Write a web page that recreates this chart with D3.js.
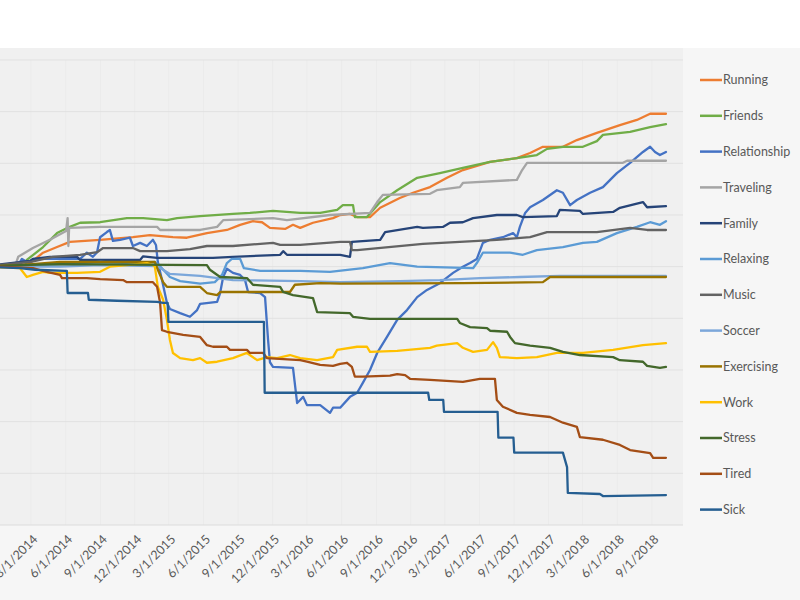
<!DOCTYPE html>
<html><head><meta charset="utf-8">
<script src="https://cdn.jsdelivr.net/npm/d3@7"></script>
<style>body{margin:0;background:#fff}svg{display:block;font-family:Lato,"Open Sans",sans-serif}</style>
</head><body><svg id="c" width="800" height="600"></svg>
<script>
// x values: days after 3/1/2014 ; y values: cumulative score
const startDate = new Date(2014, 2, 1);
const tickLabels = ["3/1/2014","6/1/2014","9/1/2014","12/1/2014","3/1/2015","6/1/2015","9/1/2015","12/1/2015",
  "3/1/2016","6/1/2016","9/1/2016","12/1/2016","3/1/2017","6/1/2017","9/1/2017","12/1/2017","3/1/2018","6/1/2018","9/1/2018"];
const seriesNames = ["Running","Friends","Relationship","Traveling","Family","Relaxing","Music","Soccer","Exercising","Work","Stress","Tired","Sick"];
const seriesColors = ["#ED7D31","#70AD47","#4472C4","#A5A5A5","#264478","#5B9BD5","#636363","#7CA7DA","#997300","#FFC000","#43682B","#A44E16","#255E91"];

const running = [[-135,0],[-16,0.1],[-3,0.7],[32,2.7],[69,3.8],[103,4.8],[183,5.2],[270,5.7],[315,6.1],[376,5.7],[413,5.6],[466,6.5],[519,7.1],[554,8.1],[588,8.8],[612,8.6],[633,7.5],[673,7.3],[694,8.1],[713,7.5],[747,8.5],[800,9.4],[819,10.0],[845,10.2],[864,9.6],[898,9.6],[925,11.4],[977,13.3],[1012,14.3],[1057,15.4],[1102,17.2],[1144,18.7],[1216,20.3],[1287,21.0],[1322,22.0],[1356,23.2],[1409,23.2],[1446,24.5],[1499,25.9],[1560,27.4],[1605,28.4],[1640,29.6],[1682,29.6]];
const friends = [[-135,0],[-16,0.1],[-11,1.3],[32,3.8],[69,6.5],[85,7.1],[103,7.7],[130,8.5],[183,8.6],[254,9.4],[297,9.4],[360,9.0],[387,9.4],[448,9.8],[535,10.2],[580,10.4],[641,10.8],[713,10.4],[766,10.4],[811,11.0],[826,11.9],[853,11.9],[858,9.6],[890,9.6],[925,12.5],[970,14.8],[1023,17.2],[1083,18.1],[1144,19.1],[1216,20.3],[1287,21.0],[1340,21.6],[1367,22.8],[1409,23.2],[1462,23.2],[1499,24.3],[1515,25.5],[1587,26.1],[1640,27.0],[1682,27.6]];
const relationship = [[-135,0],[-34,0.3],[-24,1.5],[-11,0.9],[24,1.5],[130,1.5],[148,2.7],[164,1.9],[175,2.8],[183,5.7],[201,6.7],[209,7.1],[217,5.0],[236,5.2],[262,5.6],[270,4.0],[289,4.6],[307,4.0],[323,5.2],[331,4.2],[336,0.9],[347,-2.6],[360,-7.0],[368,-8.2],[395,-9.0],[421,-9.7],[440,-8.4],[448,-7.2],[493,-6.8],[501,-5.1],[509,-2.0],[519,-0.4],[535,-1.2],[554,-1.6],[567,-2.6],[575,-4.9],[607,-5.1],[620,-5.9],[628,-14.2],[633,-18.5],[641,-19.4],[694,-19.6],[705,-26.4],[713,-25.8],[721,-25.2],[731,-26.8],[766,-26.8],[792,-28.3],[800,-27.3],[819,-27.3],[845,-25.2],[864,-24.4],[879,-22.5],[898,-20.0],[917,-16.7],[943,-13.6],[970,-10.3],[996,-8.4],[1023,-5.9],[1049,-4.5],[1083,-3.2],[1118,-1.2],[1144,0],[1163,0.7],[1181,1.5],[1197,4.6],[1216,5.2],[1250,5.7],[1277,6.5],[1287,5.7],[1295,7.7],[1309,10.4],[1322,11.5],[1356,12.9],[1393,14.8],[1409,14.3],[1428,11.9],[1446,12.9],[1481,14.3],[1515,15.4],[1552,18.1],[1587,20.1],[1621,22.2],[1640,23.2],[1653,22.2],[1666,21.6],[1682,22.2]];
const traveling = [[-135,0],[-42,0.1],[-34,1.9],[5,3.6],[50,5.2],[93,6.9],[97,9.4],[99,4.0],[101,7.5],[183,7.7],[334,7.7],[342,7.1],[448,7.1],[493,7.7],[509,9.0],[641,9.4],[678,9.0],[792,10.0],[898,10.4],[917,12.5],[932,13.9],[1057,14.1],[1075,14.8],[1136,15.4],[1144,16.2],[1287,16.8],[1301,18.7],[1314,20.1],[1568,20.1],[1579,20.5],[1682,20.5]];
const family = [[-135,0],[-3,1.1],[5,1.5],[50,1.9],[122,1.9],[130,1.3],[289,1.3],[297,2.0],[334,1.7],[482,1.7],[535,1.9],[660,2.3],[668,3.0],[678,2.3],[819,2.3],[845,1.9],[850,4.8],[925,5.2],[938,6.7],[1023,7.7],[1038,7.5],[1091,7.7],[1110,8.5],[1144,8.6],[1171,9.4],[1234,10.0],[1287,10.0],[1303,9.6],[1393,9.8],[1401,11.0],[1454,10.8],[1462,10.2],[1542,10.6],[1560,11.4],[1621,12.5],[1632,11.5],[1682,11.7]];
const relaxing = [[-135,0],[-3,0.1],[77,0.5],[183,0.9],[262,0.7],[328,0.9],[342,0.1],[368,-2.0],[395,-2.8],[448,-3.3],[487,-3.0],[506,-1.6],[519,0.7],[532,1.5],[554,1.5],[564,-0.3],[607,-0.8],[713,-0.8],[792,-1.0],[879,-0.3],[951,0.7],[1023,0],[1171,-0.3],[1181,0.7],[1197,2.7],[1269,2.7],[1303,2.3],[1340,3.2],[1409,3.8],[1462,4.6],[1499,4.8],[1552,6.5],[1605,7.7],[1640,8.6],[1666,8.1],[1682,8.8]];
const music = [[-135,0],[-3,0.9],[58,1.9],[130,2.3],[175,2.8],[191,3.6],[270,3.6],[289,3.0],[360,3.0],[421,3.4],[466,4.0],[535,4.0],[641,4.6],[660,4.2],[713,4.2],[819,4.8],[845,4.8],[850,3.2],[864,3.2],[1038,4.4],[1234,5.2],[1322,5.7],[1367,6.7],[1499,6.7],[1587,7.5],[1632,7.1],[1682,7.1]];
const soccer = [[-135,0],[77,0],[183,0.3],[334,0.1],[350,-0.6],[368,-1.4],[448,-1.8],[535,-2.6],[713,-2.8],[819,-3.0],[977,-2.8],[1083,-2.6],[1189,-2.2],[1295,-2.0],[1401,-1.8],[1507,-1.8],[1682,-1.8]];
const exercising = [[-135,0],[-29,0.3],[77,0.9],[328,0.9],[336,-0.6],[350,-3.0],[360,-3.9],[448,-3.9],[466,-5.1],[493,-5.5],[501,-4.9],[686,-4.9],[699,-3.5],[766,-3.2],[819,-3.3],[1144,-3.2],[1356,-3.0],[1375,-2.0],[1682,-2.0]];
const work = [[-135,0],[-29,-0.3],[-11,-2.0],[5,-1.6],[32,-1.0],[50,-1.2],[122,-1.2],[183,-1.0],[209,0],[254,0.3],[307,0.7],[323,0.3],[328,0],[336,-3.9],[350,-6.4],[360,-10.3],[368,-14.2],[376,-16.7],[395,-17.7],[429,-18.1],[448,-17.7],[466,-18.6],[493,-18.4],[535,-17.7],[572,-16.7],[599,-18.1],[625,-17.5],[652,-17.7],[686,-17.1],[713,-17.7],[758,-18.1],[800,-17.5],[811,-16.1],[864,-15.5],[890,-15.5],[898,-16.5],[970,-16.3],[1057,-15.7],[1075,-15.3],[1129,-14.8],[1144,-15.7],[1171,-16.5],[1208,-16.1],[1224,-14.6],[1234,-15.7],[1242,-17.5],[1287,-17.7],[1340,-17.5],[1393,-16.7],[1462,-16.7],[1542,-16.1],[1621,-15.2],[1682,-14.8]];
const stress = [[-135,0],[-29,0.3],[77,0.5],[466,0.3],[474,-0.6],[501,-2.0],[572,-2.2],[588,-3.5],[660,-3.9],[668,-4.9],[694,-5.5],[747,-6.1],[758,-8.8],[845,-9.0],[853,-9.7],[898,-10.1],[1129,-10.1],[1136,-10.9],[1163,-11.7],[1208,-11.9],[1216,-12.4],[1261,-12.6],[1269,-13.6],[1282,-14.8],[1322,-15.3],[1375,-15.7],[1409,-16.5],[1454,-17.1],[1542,-17.5],[1560,-18.1],[1621,-18.4],[1632,-19.2],[1666,-19.6],[1682,-19.4]];
const tired = [[-135,0],[-82,0],[5,-0.3],[42,-1.0],[77,-1.6],[82,-2.2],[148,-2.2],[183,-2.4],[244,-2.6],[254,-3.0],[323,-3.0],[334,-3.9],[342,-7.0],[347,-12.3],[360,-12.6],[403,-13.2],[448,-13.6],[466,-15.2],[482,-15.5],[519,-15.5],[527,-16.1],[572,-16.1],[580,-16.7],[615,-16.7],[625,-17.7],[713,-18.1],[731,-18.4],[766,-19.0],[800,-19.2],[819,-18.8],[837,-18.6],[850,-19.4],[858,-21.3],[879,-21.3],[951,-21.1],[970,-20.8],[991,-21.0],[1004,-21.7],[1057,-21.9],[1144,-22.3],[1189,-21.7],[1229,-21.7],[1234,-25.8],[1250,-27.1],[1287,-28.3],[1322,-28.7],[1375,-29.1],[1409,-30.2],[1446,-31.0],[1454,-33.0],[1515,-33.5],[1560,-34.5],[1587,-35.5],[1640,-36.1],[1648,-37.0],[1682,-37.0]];
const sick = [[-135,0],[-29,-0.3],[11,-0.6],[93,-0.8],[95,-0.8],[97,-5.1],[151,-5.1],[153,-6.4],[228,-6.6],[334,-6.8],[350,-7.0],[362,-7.0],[364,-10.7],[617,-10.7],[619,-24.4],[1052,-24.4],[1055,-25.8],[1092,-25.8],[1094,-28.1],[1236,-28.1],[1238,-33.1],[1278,-33.1],[1280,-36.0],[1409,-36.0],[1420,-38.8],[1422,-43.8],[1507,-44.0],[1515,-44.4],[1682,-44.2]];

const seriesData = [running, friends, relationship, traveling, family, relaxing, music, soccer, exercising, work, stress, tired, sick];

const svg = d3.select("#c");
const W = 800, H = 600;
const plot = {left: -60, right: 683, top: 60, bottom: 525};

// chart area background
svg.append("rect").attr("x",0).attr("y",0).attr("width",W).attr("height",H).attr("fill","#ffffff");
svg.append("rect").attr("x",0).attr("y",48).attr("width",W).attr("height",H-48).attr("fill","#f6f6f6");
svg.append("rect").attr("x",plot.left).attr("y",48).attr("width",plot.right-plot.left).attr("height",plot.bottom-48).attr("fill","#f0f0f0");

const x = d3.scaleTime().domain([startDate, new Date(2018, 8, 1)]).range([31, 652]);
const y = d3.scaleLinear().domain([-50, 40]).range([plot.bottom, plot.top]);
const parse = d3.timeParse("%m/%d/%Y");
const tickDates = tickLabels.map(parse);

// gridlines
const grid = svg.append("g");
grid.selectAll("line.v").data(tickDates).join("line")
  .attr("x1", d => x(d)).attr("x2", d => x(d)).attr("y1", plot.top).attr("y2", plot.bottom)
  .attr("stroke", "#ebebeb").attr("stroke-width", 1);
grid.selectAll("line.h").data(d3.range(-40, 41, 10)).join("line")
  .attr("x1", plot.left).attr("x2", plot.right).attr("y1", d => y(d)).attr("y2", d => y(d))
  .attr("stroke", "#e1e1e1").attr("stroke-width", 1);
svg.append("line").attr("x1", plot.left).attr("x2", plot.right).attr("y1", plot.bottom).attr("y2", plot.bottom)
  .attr("stroke", "#dcdcdc").attr("stroke-width", 1);

// x axis labels
const xAxis = d3.axisBottom(x).tickValues(tickDates).tickFormat((d,i) => tickLabels[i]).tickSize(0);
const gx = svg.append("g").attr("transform", `translate(0,${plot.bottom})`).call(xAxis);
gx.select(".domain").remove();
gx.selectAll("text")
  .attr("font-family", "Lato, 'Open Sans', sans-serif").attr("font-size", 12.5).attr("fill", "#595959")
  .attr("text-anchor", "end").attr("dy", 0).attr("y", 0)
  .attr("transform", "translate(7,15) rotate(-45)");

// lines
svg.append("clipPath").attr("id","clip").append("rect")
  .attr("x", plot.left).attr("y", plot.top-10).attr("width", plot.right-plot.left).attr("height", plot.bottom-plot.top+10);
const line = d3.line().x(d => x(d3.timeDay.offset(startDate, d[0]))).y(d => y(d[1])).curve(d3.curveLinear);
const gl = svg.append("g").attr("clip-path", "url(#clip)");
seriesData.forEach((s, i) => {
  gl.append("path").datum(s).attr("d", line).attr("fill", "none")
    .attr("stroke", seriesColors[i]).attr("stroke-width", 2.3)
    .attr("stroke-linejoin", "round").attr("stroke-linecap", "round");
});

// legend
const lg = svg.append("g");
seriesNames.forEach((n, i) => {
  const yy = 80 + i * 35.8;
  lg.append("line").attr("x1", 700).attr("x2", 722).attr("y1", yy).attr("y2", yy)
    .attr("stroke", seriesColors[i]).attr("stroke-width", 2.5);
  lg.append("text").attr("x", 723).attr("y", yy).attr("dy", "0.35em")
    .attr("font-size", 12.5).attr("fill", "#595959").text(n);
});
</script></body></html>
